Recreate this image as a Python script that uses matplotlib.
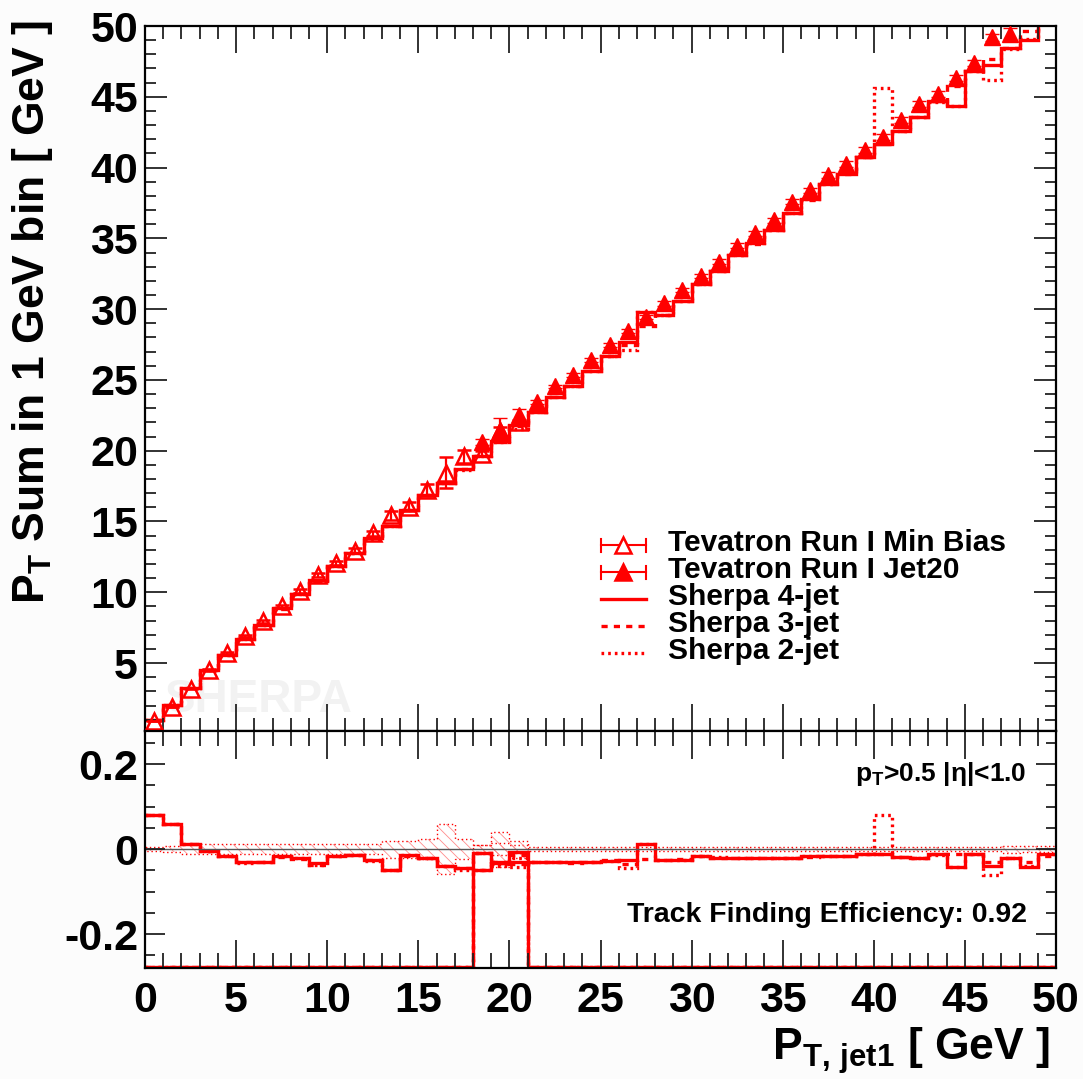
import matplotlib
matplotlib.use('Agg')
import matplotlib.pyplot as plt
import numpy as np
from matplotlib.ticker import MultipleLocator

plt.rcParams['font.family'] = ['Liberation Sans', 'DejaVu Sans']
plt.rcParams['font.weight'] = 'bold'
plt.rcParams['mathtext.fontset'] = 'custom'
plt.rcParams['mathtext.rm'] = 'Liberation Sans:bold'
plt.rcParams['mathtext.bf'] = 'Liberation Sans:bold'
plt.rcParams['mathtext.it'] = 'Liberation Sans:bold'
plt.rcParams['axes.unicode_minus'] = False
plt.rcParams['hatch.linewidth'] = 0.6

# 1 GeV bins of leading jet pT
bin_edges = np.arange(0, 51, 1.0)

# Tevatron Run I Min Bias, bins 0-20
minbias = [0.88, 1.90, 3.20, 4.50, 5.68, 6.93, 7.94, 9.00, 10.10, 11.22,
           12.07, 12.94, 14.17, 15.45, 16.05, 17.23, 18.45, 19.60, 19.80, 21.36,
           22.00]
minbias_err = [0.005, 0.015, 0.035, 0.054, 0.068, 0.083, 0.095, 0.108, 0.121, 0.135,
               0.145, 0.155, 0.170, 0.310, 0.320, 0.400, 1.070, 0.450, 0.200, 0.320,
               0.200]
minbias_first = 0

# Tevatron Run I Jet20, bins 18-49
jet20 = [20.61, 21.43, 22.50, 23.44, 24.54, 25.37, 26.43, 27.44, 28.44, 29.46,
         30.40, 31.34, 32.33, 33.35, 34.48, 35.35, 36.29, 37.59, 38.40, 39.48,
         40.23, 41.25, 42.19, 43.37, 44.48, 45.21, 46.32, 47.38, 49.20, 49.43,
         51.20, 52.20]
jet20_err = [0.20, 0.88, 0.45, 0.12, 0.12, 0.13, 0.13, 0.14, 0.14, 0.15,
             0.15, 0.16, 0.16, 0.17, 0.17, 0.18, 0.18, 0.19, 0.19, 0.20,
             0.20, 0.21, 0.21, 0.22, 0.22, 0.23, 0.23, 0.24, 0.25, 0.40,
             0.41, 0.42]
jet20_first = 18

# Sherpa predictions, bins 0-49
sherpa_4jet = [0.95, 2.01, 3.24, 4.48, 5.59, 6.72, 7.69, 8.86, 9.88, 10.84,
               11.88, 12.77, 13.80, 14.69, 15.83, 16.85, 17.71, 18.74, 19.60, 20.72,
               21.83, 22.71, 23.78, 24.58, 25.64, 26.67, 27.70, 29.81, 29.61, 30.56,
               31.81, 32.68, 33.79, 34.64, 35.56, 36.76, 37.75, 38.81, 39.55, 40.76,
               41.68, 42.59, 43.59, 44.67, 44.37, 46.81, 47.23, 48.44, 49.00, 51.57]
sherpa_3jet = [0.95, 2.01, 3.24, 4.48, 5.59, 6.72, 7.69, 8.84, 9.86, 10.79,
               11.88, 12.76, 13.80, 14.69, 15.80, 16.85, 17.71, 18.74, 19.60, 20.72,
               21.71, 22.74, 23.80, 24.55, 25.64, 26.72, 27.44, 28.78, 29.61, 30.58,
               31.81, 32.68, 33.79, 34.60, 35.56, 36.76, 37.72, 38.81, 39.55, 40.76,
               41.70, 42.59, 43.55, 44.67, 45.76, 46.81, 47.67, 48.44, 49.66, 51.30]
sherpa_2jet = [0.95, 2.01, 3.24, 4.48, 5.59, 6.70, 7.69, 8.86, 9.88, 10.79,
               11.88, 12.77, 13.78, 14.69, 15.83, 16.85, 17.71, 18.62, 19.60, 20.60,
               21.53, 22.71, 23.78, 24.58, 25.60, 26.67, 27.14, 29.81, 29.61, 30.56,
               31.81, 32.70, 33.79, 34.64, 35.56, 36.76, 37.75, 38.81, 39.60, 40.76,
               45.60, 42.59, 43.59, 44.62, 44.37, 46.85, 46.20, 48.40, 49.10, 51.57]

ratio_ticks = [-0.2, 0.0, 0.2]
ratio_tick_labels = ['-0.2', '0', '0.2']

RED = '#ff0000'
W, H = 1083, 1079
LW = 2.4
DASHED = (0, (1.85, 1.85))
DOTTED = (0, (0.8, 1.2))


def ratio(mc, data, first):
    # (MC - data) / data where data exists, -1 elsewhere
    r = np.full(len(mc), -1.0)
    n = len(data)
    r[first:first + n] = np.asarray(mc[first:first + n]) / np.asarray(data) - 1
    return r


def style_axis(a, xmaj, xmin, ymaj, ymin):
    a.tick_params(which='both', direction='in', top=True, right=True,
                  labelsize=31, width=1.3, color='#222222')
    a.tick_params(axis='x', which='major', length=xmaj, pad=9)
    a.tick_params(axis='x', which='minor', length=xmin)
    a.tick_params(axis='y', which='major', length=ymaj, pad=5)
    a.tick_params(axis='y', which='minor', length=ymin)
    for s in a.spines.values():
        s.set_linewidth(1.6)


fig = plt.figure(figsize=(W / 100, H / 100), dpi=100, facecolor='#fcfcfc')
ax = fig.add_axes([145 / W, 1 - 731 / H, 911 / W, 705 / H])
rax = fig.add_axes([145 / W, 1 - 968 / H, 911 / W, 237 / H], sharex=ax)

# ---- main panel
ax.text(0.022, 0.027, 'SHERPA', transform=ax.transAxes, fontsize=33,
        color='#f2f2f2', zorder=0)

ax.stairs(sherpa_2jet, bin_edges, baseline=None, color=RED, lw=LW, ls=DOTTED)
ax.stairs(sherpa_3jet, bin_edges, baseline=None, color=RED, lw=LW, ls=DASHED)
ax.stairs(sherpa_4jet, bin_edges, baseline=None, color=RED, lw=LW)

mb_x = bin_edges[minbias_first:minbias_first + len(minbias)] + 0.5
j20_x = bin_edges[jet20_first:jet20_first + len(jet20)] + 0.5
ax.errorbar(mb_x, minbias, yerr=minbias_err, fmt='^', ms=11.5, mfc='none',
            mec=RED, mew=1.8, ecolor=RED, elinewidth=1.6, capsize=5,
            capthick=1.6, zorder=4)
ax.errorbar(j20_x, jet20, yerr=jet20_err, fmt='^', ms=11.5, mfc=RED,
            mec=RED, mew=1.0, ecolor=RED, elinewidth=1.6, capsize=5,
            capthick=1.6, zorder=4)

ax.set_xlim(0, 50)
ax.set_ylim(0.2, 50)
ax.xaxis.set_major_locator(MultipleLocator(5))
ax.xaxis.set_minor_locator(MultipleLocator(1))
ax.yaxis.set_major_locator(MultipleLocator(5))
ax.yaxis.set_minor_locator(MultipleLocator(1))
style_axis(ax, 19.5, 9.5, 16, 8)
ax.tick_params(labelbottom=False)


# legend drawn by hand, positions given in figure pixels
def axf(px, py):
    return (px - 145) / 911, (731 - py) / 705


rows = [545, 572, 599, 626, 653]
labels = ['Tevatron Run I Min Bias', 'Tevatron Run I Jet20',
          'Sherpa 4-jet', 'Sherpa 3-jet', 'Sherpa 2-jet']
x0, x1 = axf(601, 0)[0], axf(646, 0)[0]
xm = axf(623, 0)[0]
tx = axf(668, 0)[0]
cap = 6.5 / 705
for i, (py, lab) in enumerate(zip(rows, labels)):
    yy = axf(0, py)[1]
    if i < 2:
        ax.plot([x0, x1], [yy, yy], color=RED, lw=1.5, transform=ax.transAxes,
                clip_on=False)
        for xe in (x0, x1):
            ax.plot([xe, xe], [yy - cap, yy + cap], color=RED, lw=1.5,
                    transform=ax.transAxes, clip_on=False)
        ax.plot([xm], [yy], marker='^', ms=11.5, mec=RED, mew=1.8,
                mfc='white' if i == 0 else RED, transform=ax.transAxes,
                clip_on=False, zorder=5)
    else:
        ls = ['-', DASHED, DOTTED][i - 2]
        ax.plot([x0, x1], [yy, yy], color=RED, lw=LW, ls=ls,
                transform=ax.transAxes, clip_on=False)
    ax.text(tx, axf(0, py - 2)[1], lab, transform=ax.transAxes, fontsize=21.5,
            va='center', ha='left')

# ---- ratio panel
rlo, rhi = -0.28, 0.278
bands = [(minbias, minbias_err, minbias_first), (jet20, jet20_err, jet20_first)]
for data, err, first in bands:
    rel = np.asarray(err) / np.asarray(data)
    e = bin_edges[first:first + len(data) + 1]
    rax.stairs(rel, e, baseline=-rel, fill=True, facecolor='none',
               edgecolor='#ff8c8c', hatch='\\\\\\', lw=0)
    rax.stairs(rel, e, baseline=-rel, color=RED, lw=1.0, ls=(0, (1, 2)))

rax.axhline(0, color='#555555', lw=1.0, zorder=1.5)

for mc, ls in [(sherpa_2jet, DOTTED), (sherpa_3jet, DASHED), (sherpa_4jet, '-')]:
    for data, err, first in bands:
        r = np.maximum(ratio(mc, data, first), rlo + 0.003)
        rax.stairs(r, bin_edges, baseline=None, color=RED, lw=LW, ls=ls)

rax.set_ylim(rlo, rhi)
rax.set_yticks(ratio_ticks, ratio_tick_labels)
rax.yaxis.set_minor_locator(MultipleLocator(0.05))
style_axis(rax, 20, 10.8, 14.4, 7.2)

rax.text(0.968, 0.79, r'p$_{\mathbf{T}}$>0.5 |η|<1.0', fontsize=19,
         ha='right', va='baseline', transform=rax.transAxes)
rax.text(0.968, 0.224, 'Track Finding Efficiency: 0.92', fontsize=20.5,
         ha='right', va='center', transform=rax.transAxes)

fig.text(33 / W, 1 - 312 / H, r'P$_{\mathbf{T}}$ Sum in 1 GeV bin [ GeV ]',
         rotation=90, ha='center', va='center', fontsize=32)
fig.text(1050 / W, 1 - 1060 / H, r'P$_{\mathbf{T,\,jet1}}$ [ GeV ]',
         ha='right', va='baseline', fontsize=32)

fig.savefig('out.png', dpi=100, facecolor=fig.get_facecolor())
